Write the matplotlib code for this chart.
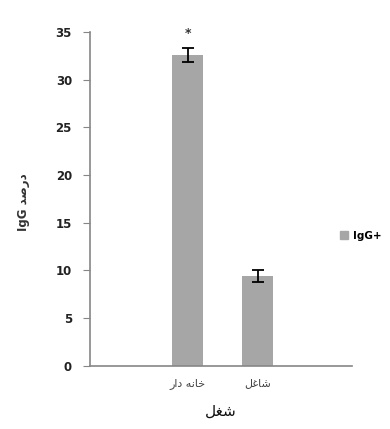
import matplotlib
matplotlib.use("Agg")
import matplotlib.pyplot as plt
from matplotlib.patches import Patch

# Persian labels written as pre-shaped presentation forms in visual order,
# since matplotlib does no Arabic shaping or bidi
categories = ["\uFEAD\uFE8D\uFEA9 \uFEEA\uFEE7\uFE8E\uFEA7",   # خانه دار
              "\uFEDE\uFECF\uFE8E\uFEB7"]                      # شاغل
xlabel = "\uFEDE\uFED0\uFEB7"                                  # شغل
ylabel = "IgG \uFEAA\uFEBB\uFEAD\uFEA9"                        # درصد IgG
series_name = "IgG+"
values = [32.6, 9.4]
errors = [0.7, 0.65]
yticks = [0, 5, 10, 15, 20, 25, 30, 35]

bar_color = "#a6a6a6"
axis_color = "#868686"

fig = plt.figure(figsize=(3.9, 4.29), dpi=100)
ax = fig.add_axes([0.2308, 0.148, 0.6718, 0.7772])

x = list(range(len(categories)))
ax.bar(x, values, width=0.44, color=bar_color, zorder=2)
ax.errorbar(x, values, yerr=errors, fmt="none", ecolor="black",
            elinewidth=1.3, capsize=4.5, capthick=1.3, zorder=3)
ax.text(x[0], values[0] + errors[0] + 1.6, "*", ha="center", va="center",
        fontsize=9, fontweight="bold", color="#333333")

ax.set_ylim(0, 35)
ax.set_xlim(-1.393, 2.35)
ax.set_yticks(yticks)
ax.set_xticks(x)
ax.set_xticklabels(categories, family=["DejaVu Sans"], fontsize=8, color="#444444")
ax.tick_params(axis="x", length=0, pad=9)
ax.tick_params(axis="y", length=5, color=axis_color, labelsize=8.5, pad=8)
for lab in ax.get_yticklabels():
    lab.set_fontweight("bold")
    lab.set_color("#222222")

for side in ["top", "right"]:
    ax.spines[side].set_visible(False)
for side in ["left", "bottom"]:
    ax.spines[side].set_color(axis_color)
    ax.spines[side].set_linewidth(1.2)

ax.set_ylabel(ylabel, family=["DejaVu Sans"], fontsize=8.5, fontweight="bold", color="#333333")
ax.yaxis.set_label_coords(-0.23, 0.49)
ax.set_xlabel(xlabel, family=["DejaVu Sans"], fontsize=11, color="#111111")
ax.xaxis.set_label_coords(0.5, -0.115)

fig.legend(handles=[Patch(color=bar_color, label=series_name)],
           loc="center left", bbox_to_anchor=(0.855, 0.45), frameon=False,
           handlelength=0.8, handleheight=0.8, handletextpad=0.5,
           borderaxespad=0.2, prop={"weight": "bold", "size": 7.5})

fig.savefig("out.png", dpi=100)
